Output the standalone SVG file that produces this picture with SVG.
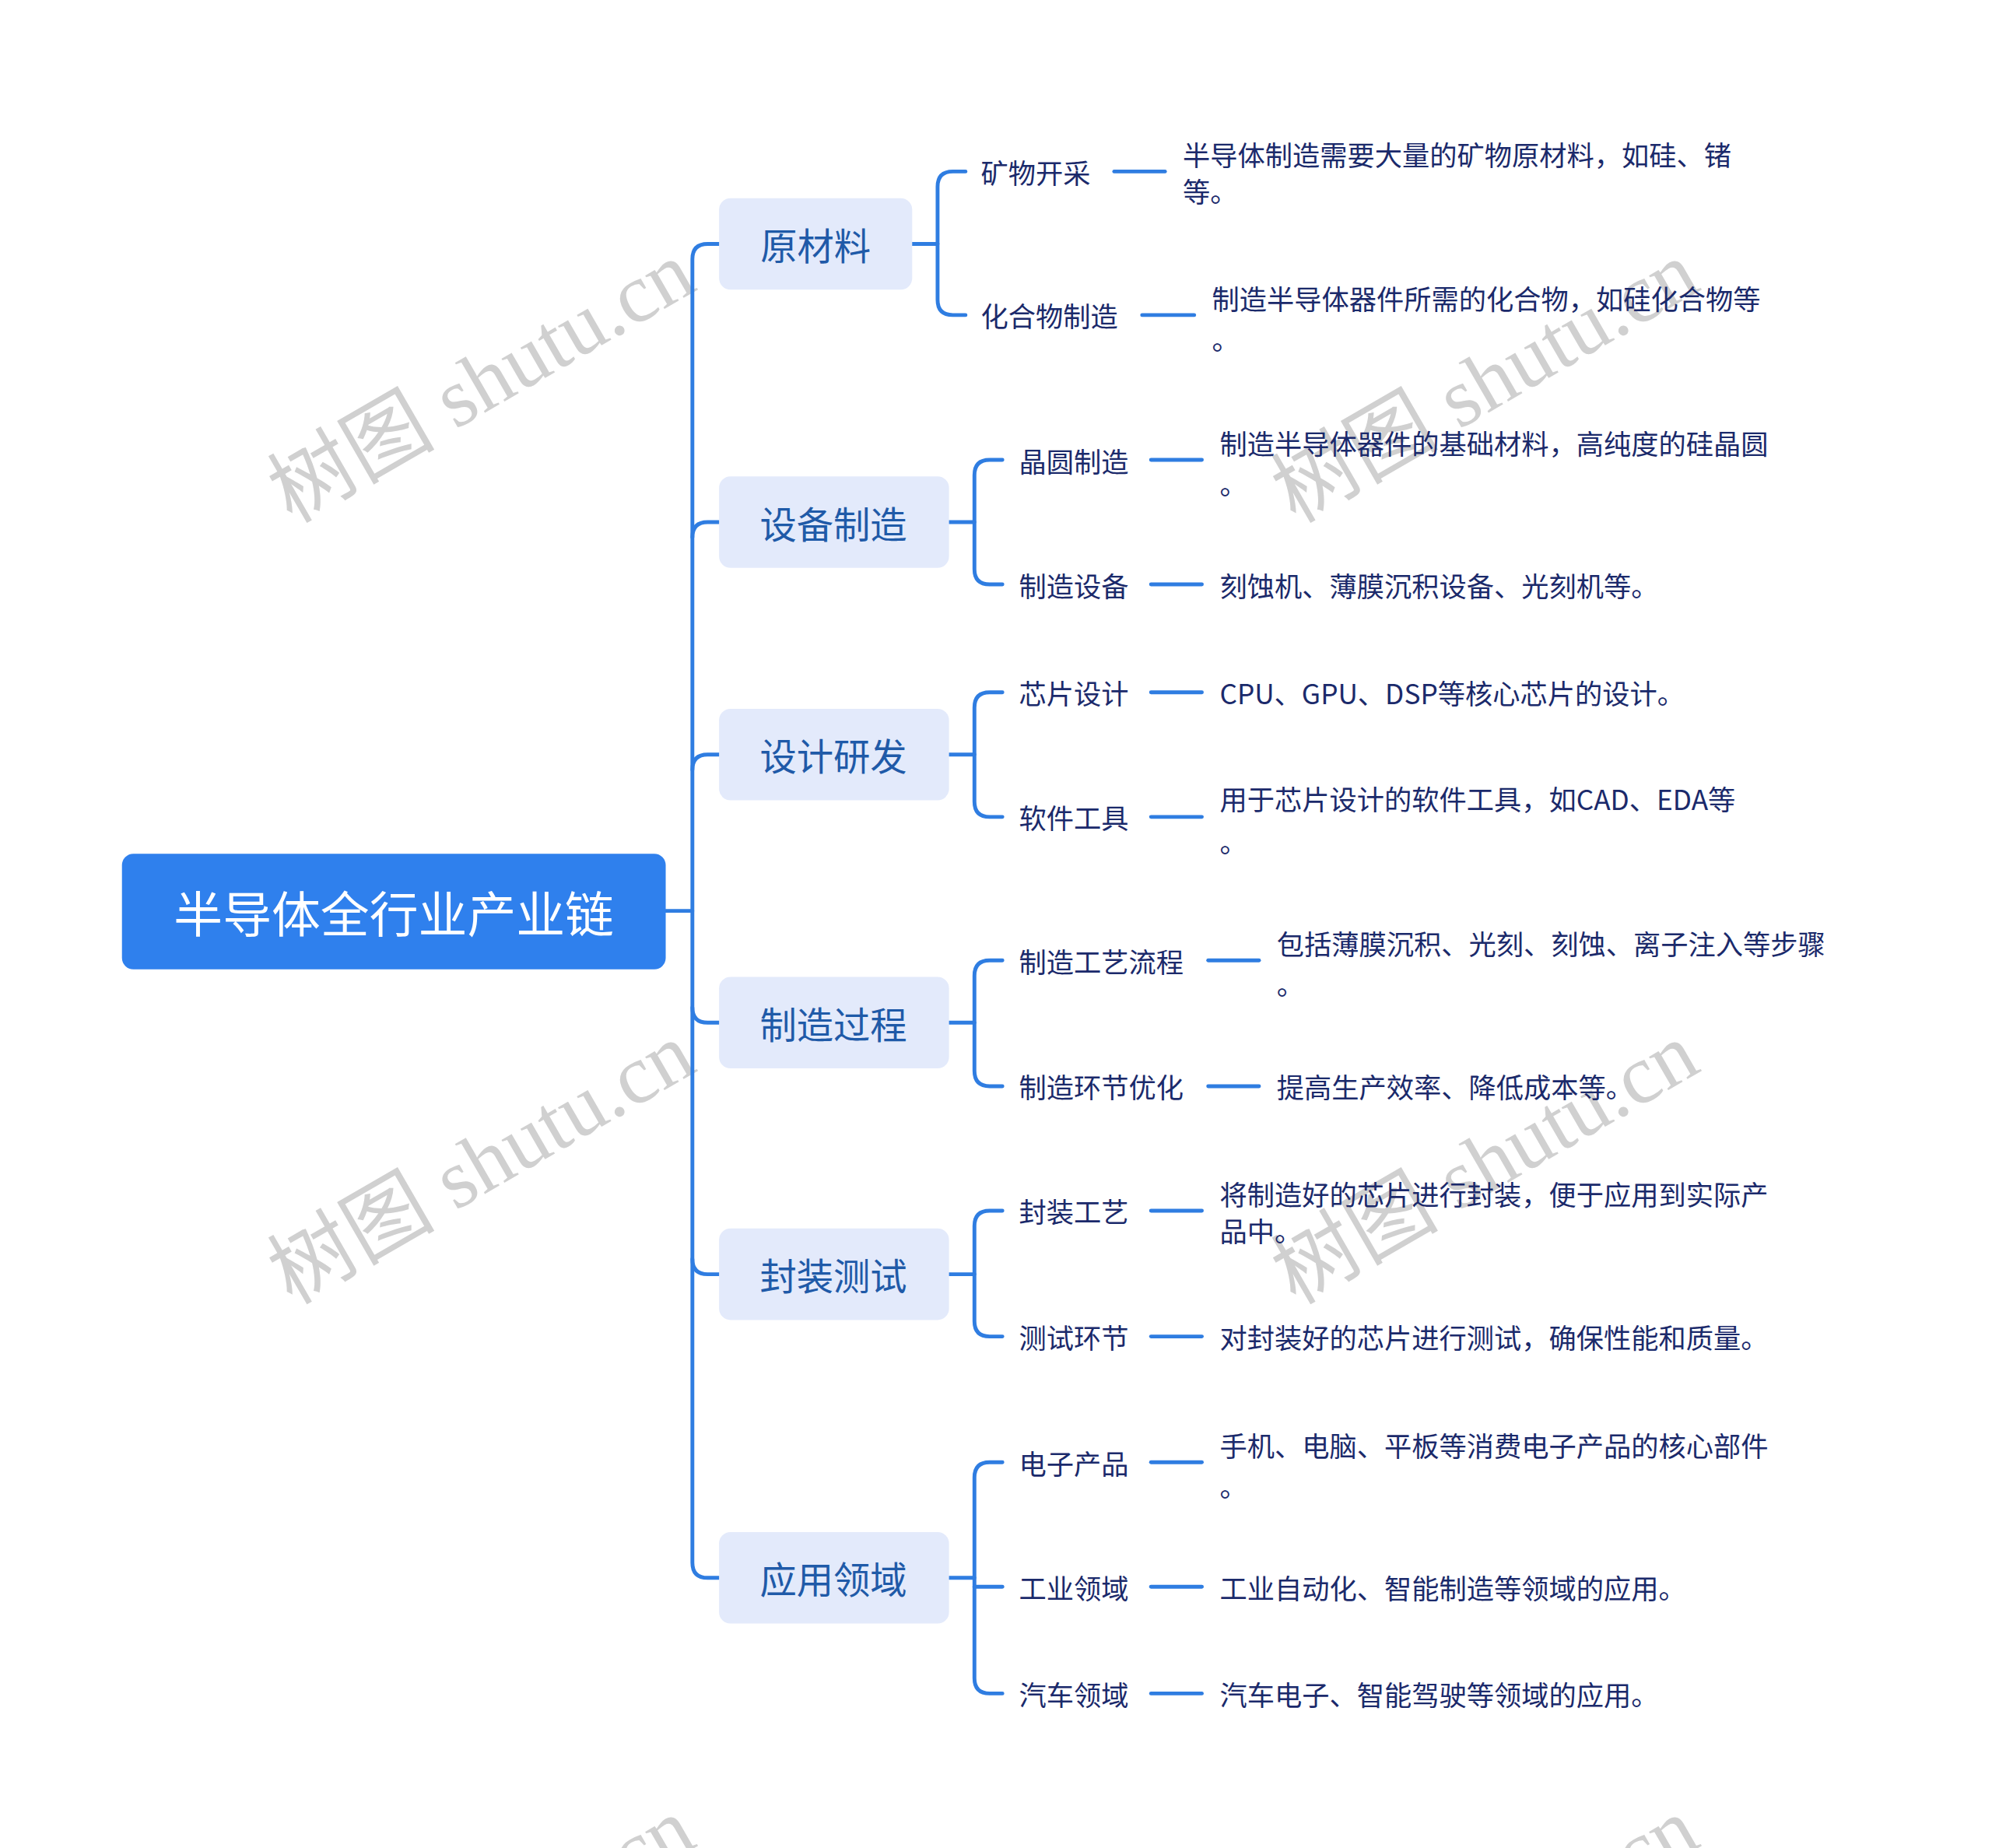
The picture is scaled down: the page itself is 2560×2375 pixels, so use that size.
<svg xmlns="http://www.w3.org/2000/svg" width="2560" height="2375" viewBox="0 0 2560 2375">
<style>
.c{fill:none;stroke:#2f7de1;stroke-width:3;stroke-linecap:round}
.l1{fill:#e3eafb}
.t1{font-family:"Noto Sans CJK SC","Noto Sans",sans-serif;font-size:29px;fill:#1f5aa8;dominant-baseline:central}
.t2{font-family:"Noto Sans CJK SC","Noto Sans",sans-serif;font-size:21.6px;fill:#1b2a6b;dominant-baseline:central}
.wm{font-family:"Liberation Serif","Noto Sans CJK SC",serif;font-size:66px;fill:#d0d0d0}
</style>
<rect width="2560" height="2375" fill="#fff"/>
<g transform="scale(1.6327)">
<g id="watermarks">
<text class="wm" x="390" y="320" text-anchor="middle" transform="rotate(-30 390 320)">树图 shutu.cn</text>
<text class="wm" x="1180" y="320" text-anchor="middle" transform="rotate(-30 1180 320)">树图 shutu.cn</text>
<text class="wm" x="390" y="935" text-anchor="middle" transform="rotate(-30 390 935)">树图 shutu.cn</text>
<text class="wm" x="1180" y="935" text-anchor="middle" transform="rotate(-30 1180 935)">树图 shutu.cn</text>
<text class="wm" x="390" y="1545" text-anchor="middle" transform="rotate(-30 390 1545)">树图 shutu.cn</text>
<text class="wm" x="1180" y="1545" text-anchor="middle" transform="rotate(-30 1180 1545)">树图 shutu.cn</text>
</g>
<g id="connectors">
<path class="c" d="M524 717 H545"/>
<path class="c" d="M566 192 H557 Q545 192 545 204 V1230 Q545 1242 557 1242 H566"/>
<path class="c" d="M566 411 H557 Q545 411 545 423"/>
<path class="c" d="M566 594 H557 Q545 594 545 606"/>
<path class="c" d="M566 805 H557 Q545 805 545 793"/>
<path class="c" d="M566 1003 H557 Q545 1003 545 991"/>
<path class="c" d="M718 192 H738"/>
<path class="c" d="M760 135 H750 Q738 135 738 147 V236 Q738 248 750 248 H760"/>
<path class="c" d="M747 411 H767"/>
<path class="c" d="M789 362 H779 Q767 362 767 374 V448 Q767 460 779 460 H789"/>
<path class="c" d="M747 594 H767"/>
<path class="c" d="M789 545 H779 Q767 545 767 557 V631 Q767 643 779 643 H789"/>
<path class="c" d="M747 805 H767"/>
<path class="c" d="M789 756 H779 Q767 756 767 768 V843 Q767 855 779 855 H789"/>
<path class="c" d="M747 1003 H767"/>
<path class="c" d="M789 953 H779 Q767 953 767 965 V1040 Q767 1052 779 1052 H789"/>
<path class="c" d="M747 1242 H767"/>
<path class="c" d="M789 1151 H779 Q767 1151 767 1163 V1321 Q767 1333 779 1333 H789"/>
<path class="c" d="M767 1249 H789"/>
<path class="c" d="M877 135 H917"/><path class="c" d="M899 248 H940"/>
<path class="c" d="M906 362 H946"/><path class="c" d="M906 460 H946"/>
<path class="c" d="M906 545 H946"/><path class="c" d="M906 643 H946"/>
<path class="c" d="M951 756 H991"/><path class="c" d="M951 855 H991"/>
<path class="c" d="M906 953 H946"/><path class="c" d="M906 1052 H946"/>
<path class="c" d="M906 1151 H946"/><path class="c" d="M906 1249 H946"/><path class="c" d="M906 1333 H946"/>
</g>
<g id="root"><rect x="96" y="672" width="428" height="91" rx="9" fill="#2f80ed"/><text x="310" y="717" text-anchor="middle" font-family="Noto Sans CJK SC,sans-serif" font-size="38.5" fill="#fff" dominant-baseline="central">半导体全行业产业链</text></g>
<g id="n1"><rect class="l1" x="566" y="156" width="152" height="72" rx="9"/><text class="t1" x="642" y="192" text-anchor="middle">原材料</text></g>
<g id="n2"><rect class="l1" x="566" y="375" width="181" height="72" rx="9"/><text class="t1" x="656" y="411" text-anchor="middle">设备制造</text></g>
<g id="n3"><rect class="l1" x="566" y="558" width="181" height="72" rx="9"/><text class="t1" x="656" y="594" text-anchor="middle">设计研发</text></g>
<g id="n4"><rect class="l1" x="566" y="769" width="181" height="72" rx="9"/><text class="t1" x="656" y="805" text-anchor="middle">制造过程</text></g>
<g id="n5"><rect class="l1" x="566" y="967" width="181" height="72" rx="9"/><text class="t1" x="656" y="1003" text-anchor="middle">封装测试</text></g>
<g id="n6"><rect class="l1" x="566" y="1206" width="181" height="72" rx="9"/><text class="t1" x="656" y="1242" text-anchor="middle">应用领域</text></g>
<g id="leaves">
<g id="a1"><text class="t2" x="772" y="135">矿物开采</text><text class="t2" x="931" y="121">半导体制造需要大量的矿物原材料，如硅、锗</text><text class="t2" x="931" y="150">等。</text></g>
<g id="a2"><text class="t2" x="772" y="248">化合物制造</text><text class="t2" x="954" y="234">制造半导体器件所需的化合物，如硅化合物等</text><text class="t2" x="954" y="266">。</text></g>
<g id="b1"><text class="t2" x="802" y="362">晶圆制造</text><text class="t2" x="960" y="348">制造半导体器件的基础材料，高纯度的硅晶圆</text><text class="t2" x="960" y="380">。</text></g>
<g id="b2"><text class="t2" x="802" y="460">制造设备</text><text class="t2" x="960" y="460">刻蚀机、薄膜沉积设备、光刻机等。</text></g>
<g id="c1"><text class="t2" x="802" y="545">芯片设计</text><text class="t2" x="960" y="545">CPU、GPU、DSP等核心芯片的设计。</text></g>
<g id="c2"><text class="t2" x="802" y="643">软件工具</text><text class="t2" x="960" y="628">用于芯片设计的软件工具，如CAD、EDA等</text><text class="t2" x="960" y="662">。</text></g>
<g id="d1"><text class="t2" x="802" y="756">制造工艺流程</text><text class="t2" x="1005" y="742">包括薄膜沉积、光刻、刻蚀、离子注入等步骤</text><text class="t2" x="1005" y="774">。</text></g>
<g id="d2"><text class="t2" x="802" y="855">制造环节优化</text><text class="t2" x="1005" y="855">提高生产效率、降低成本等。</text></g>
<g id="e1"><text class="t2" x="802" y="953">封装工艺</text><text class="t2" x="960" y="939">将制造好的芯片进行封装，便于应用到实际产</text><text class="t2" x="960" y="968">品中。</text></g>
<g id="e2"><text class="t2" x="802" y="1052">测试环节</text><text class="t2" x="960" y="1052">对封装好的芯片进行测试，确保性能和质量。</text></g>
<g id="f1"><text class="t2" x="802" y="1151">电子产品</text><text class="t2" x="960" y="1137">手机、电脑、平板等消费电子产品的核心部件</text><text class="t2" x="960" y="1169">。</text></g>
<g id="f2"><text class="t2" x="802" y="1249">工业领域</text><text class="t2" x="960" y="1249">工业自动化、智能制造等领域的应用。</text></g>
<g id="f3"><text class="t2" x="802" y="1333">汽车领域</text><text class="t2" x="960" y="1333">汽车电子、智能驾驶等领域的应用。</text></g>
</g>
</g>
</svg>
